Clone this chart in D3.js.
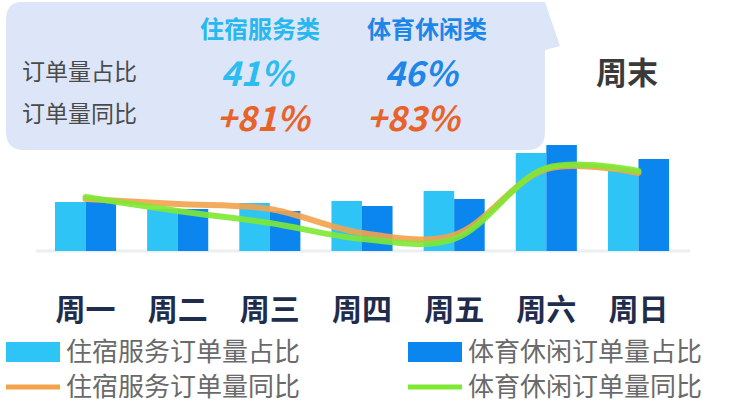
<!DOCTYPE html>
<html><head><meta charset="utf-8">
<script src="https://cdn.jsdelivr.net/npm/d3@7"></script>
<style>body{margin:0;background:#fff;font-family:"Noto Sans CJK SC",sans-serif}</style>
</head><body><div id="chart"></div>
<script>
// values (relative units)
const DAYS = ["周一", "周二", "周三", "周四", "周五", "周六", "周日"];
const LODGING_SHARE = [49, 42, 48, 50, 60, 98, 80];
const SPORTS_SHARE = [49, 42, 40, 45, 52, 106, 92];
const LODGING_YOY = [52, 47, 42, 18, 16, 82, 78];
const SPORTS_YOY = [54, 40, 28, 12, 12, 83, 80];
const LEGEND_NAMES = ["住宿服务订单量占比", "体育休闲订单量占比", "住宿服务订单量同比", "体育休闲订单量同比"];

const W = 744, H = 414;
const svg = d3.select("#chart").append("svg").attr("width", W).attr("height", H);
const font = "Noto Sans CJK SC";

const x = d3.scaleBand().domain(DAYS).range([39.5, 684.5]).paddingInner(0.337).paddingOuter(0.168);
const y = d3.scaleLinear().domain([0, 110]).range([251, 141]);

// baseline
svg.append("line").attr("x1", 36).attr("x2", 690).attr("y1", 251).attr("y2", 251)
    .attr("stroke", "#eceef2").attr("stroke-width", 3);

const bw = x.bandwidth() / 2;
svg.selectAll(".b1").data(DAYS).enter().append("rect")
    .attr("x", d => x(d)).attr("y", (d, i) => y(LODGING_SHARE[i]))
    .attr("width", bw).attr("height", (d, i) => 251 - y(LODGING_SHARE[i])).attr("fill", "#2ec5f6");
svg.selectAll(".b2").data(DAYS).enter().append("rect")
    .attr("x", d => x(d) + bw).attr("y", (d, i) => y(SPORTS_SHARE[i]))
    .attr("width", bw).attr("height", (d, i) => 251 - y(SPORTS_SHARE[i])).attr("fill", "#0a86ee");

const line = d3.line().x((d, i) => x(DAYS[i]) + bw).y(d => y(d)).curve(d3.curveCatmullRom.alpha(0.5));
svg.append("path").datum(LODGING_YOY).attr("d", line).attr("fill", "none")
    .attr("stroke", "#f2a34c").attr("stroke-width", 6).attr("stroke-linecap", "round").attr("opacity", 0.9);
svg.append("path").datum(SPORTS_YOY).attr("d", line).attr("fill", "none")
    .attr("stroke", "#7ee832").attr("stroke-width", 6).attr("stroke-linecap", "round").attr("opacity", 0.9);

// x labels
svg.selectAll(".xl").data(DAYS).enter().append("text")
    .attr("x", d => x(d) + bw).attr("y", 320).attr("text-anchor", "middle")
    .style("font-family", font).style("font-size", "30px").style("font-weight", "bold")
    .style("fill", "#1f2d4d").text(d => d);

// callout bubble
svg.append("path")
    .attr("d", "M22,2 H545 L560,46 L545,50 V132 Q545,150 527,150 H24 Q6,150 6,132 V20 Q6,2 22,2 Z")
    .attr("fill", "#dde6f8");
const heads = [["住宿服务类", 260, "#26b8ef"], ["体育休闲类", 427, "#1e86e8"]];
heads.forEach(h => svg.append("text").attr("x", h[1]).attr("y", 38).attr("text-anchor", "middle")
    .style("font-family", font).style("font-size", "24px").style("font-weight", "bold")
    .style("fill", h[2]).text(h[0]));
[["订单量占比", 80], ["订单量同比", 122]].forEach(r => svg.append("text").attr("x", 22).attr("y", r[1])
    .style("font-family", font).style("font-size", "23px").style("fill", "#4a4a4a").text(r[0]));
[["41%", 257, 86, "#2bbcf0"], ["46%", 421, 86, "#1e86e8"], ["+81%", 263, 131, "#e8632a"], ["+83%", 413, 131, "#e8632a"]]
    .forEach(t => svg.append("text").attr("x", t[1]).attr("y", t[2]).attr("text-anchor", "middle")
        .style("font-family", font).style("font-size", "34px").style("font-weight", "bold")
        .style("font-style", "italic").style("fill", t[3]).text(t[0]));
svg.append("text").attr("x", 627).attr("y", 84).attr("text-anchor", "middle")
    .style("font-family", font).style("font-size", "31px").style("font-weight", "bold")
    .style("fill", "#3a3a3a").text("周末");

// legend
const legend = [
    { x: 6, y: 352, type: "rect", color: "#2ec5f6" },
    { x: 408, y: 352, type: "rect", color: "#0a86ee" },
    { x: 6, y: 387, type: "line", color: "#f2a34c" },
    { x: 408, y: 387, type: "line", color: "#7ee832" }
];
legend.forEach((l, i) => {
    if (l.type === "rect") {
        svg.append("rect").attr("x", l.x).attr("y", l.y - 10).attr("width", 54).attr("height", 20).attr("fill", l.color);
    } else {
        svg.append("line").attr("x1", l.x).attr("x2", l.x + 54).attr("y1", l.y).attr("y2", l.y)
            .attr("stroke", l.color).attr("stroke-width", 5);
    }
    svg.append("text").attr("x", l.x + 60).attr("y", l.y + 9)
        .style("font-family", font).style("font-size", "26px").style("fill", "#6a6a6a").text(LEGEND_NAMES[i]);
});
</script></body></html>
